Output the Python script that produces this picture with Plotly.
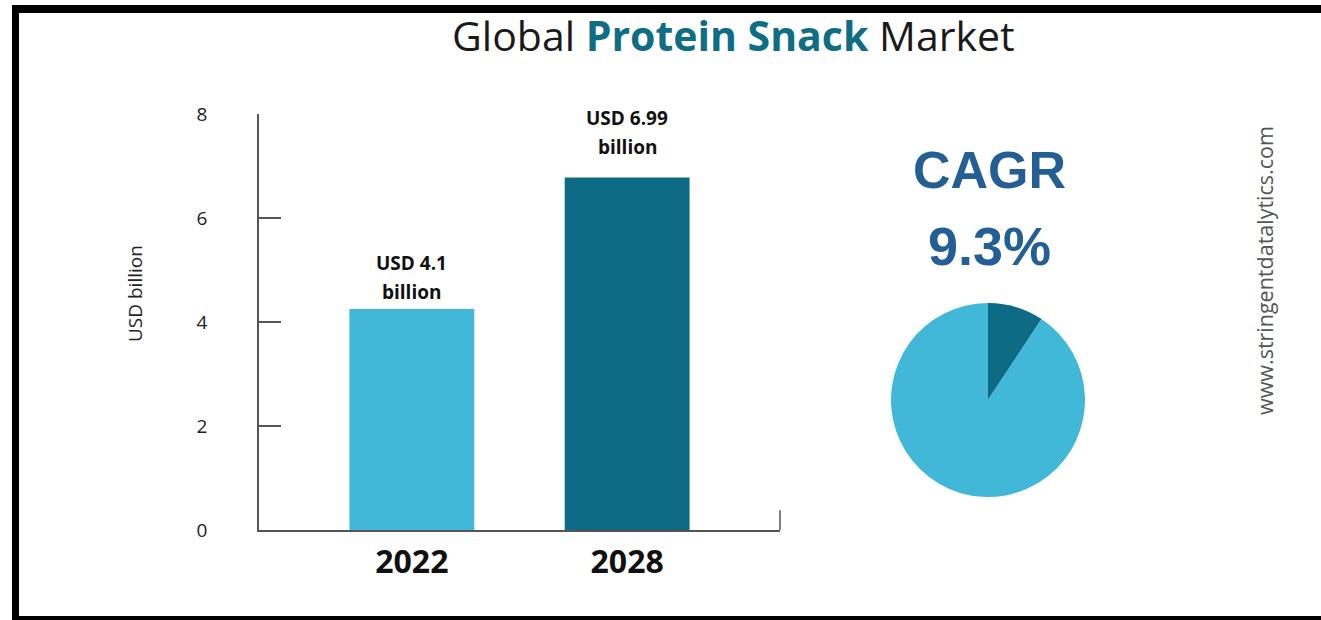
import plotly.graph_objects as go

# ---- data ----
years = ["2022", "2028"]
market_values = [4.25, 6.78]          # bar heights (USD billion)
label_top = ["USD 4.1", "USD 6.99"]
label_bottom = ["billion", "billion"]
cagr_share = [9.3, 90.7]              # pie: CAGR slice vs rest
y_ticks = [0, 2, 4, 6, 8]

# ---- style ----
W, H = 1321, 620
LIGHT = "#42b8d8"
DARK = "#0e6b85"
top_shift = [46, 59]
bottom_shift = [17, 30]

def px_x(p):
    return p / W

def px_y(p):
    return 1 - p / H

fig = go.Figure()

fig.add_trace(go.Bar(
    x=years, y=market_values,
    marker=dict(color=[LIGHT, DARK], line=dict(width=0)),
    width=0.58,
    hoverinfo="skip", showlegend=False,
))

fig.add_trace(go.Pie(
    values=cagr_share,
    marker=dict(colors=[DARK, LIGHT], line=dict(width=0)),
    sort=False, direction="clockwise", rotation=0,
    textinfo="none", hoverinfo="skip", showlegend=False,
    domain=dict(x=[px_x(891), px_x(1085)], y=[px_y(497), px_y(303)]),
))

annotations = [
    dict(text="Global <b><span style='color:#0f6e84'>Protein Snack</span></b> Market",
         xref="paper", yref="paper", x=px_x(733), y=px_y(35), showarrow=False,
         xanchor="center", yanchor="middle",
         font=dict(family="Open Sans", size=41, color="#1a1a1a")),
    dict(text="<b>CAGR</b>", xref="paper", yref="paper", x=px_x(989), y=px_y(170),
         showarrow=False, xanchor="center", yanchor="middle",
         font=dict(family="Liberation Sans", size=52, color="#235e94")),
    dict(text="<b>9.3%</b>", xref="paper", yref="paper", x=px_x(989), y=px_y(246),
         showarrow=False, xanchor="center", yanchor="middle",
         font=dict(family="Liberation Sans", size=54, color="#235e94")),
    dict(text="www.stringentdatalytics.com", xref="paper", yref="paper",
         x=px_x(1265), y=px_y(271), showarrow=False, textangle=-90,
         xanchor="center", yanchor="middle",
         font=dict(family="Open Sans", size=21.5, color="#555")),
    dict(text="USD billion", xref="paper", yref="paper",
         x=px_x(135), y=px_y(294), showarrow=False, textangle=-90,
         xanchor="center", yanchor="middle",
         font=dict(family="Open Sans", size=19, color="#222")),
]
for i, (v, t1, t2, s1, s2) in enumerate(zip(market_values, label_top, label_bottom, top_shift, bottom_shift)):
    annotations.append(dict(text=f"<b>{t1}</b>", x=i, y=v, xref="x", yref="y", showarrow=False,
                            xanchor="center", yanchor="middle", yshift=s1,
                            font=dict(family="Open Sans", size=19, color="#111")))
    annotations.append(dict(text=f"<b>{t2}</b>", x=i, y=v, xref="x", yref="y", showarrow=False,
                            xanchor="center", yanchor="middle", yshift=s2,
                            font=dict(family="Open Sans", size=19, color="#111")))

fig.update_layout(
    width=W, height=H,
    margin=dict(l=0, r=0, t=0, b=0, autoexpand=False),
    paper_bgcolor="white", plot_bgcolor="white",
    font=dict(family="Open Sans", color="#222"),
    xaxis=dict(
        type="category",
        domain=[px_x(259), px_x(780)],
        range=[-0.71, 1.71],
        showline=True, linecolor="#555", linewidth=1.5,
        showgrid=False, zeroline=False, ticks="",
        tickfont=dict(family="Open Sans", size=32, color="#111", weight="bold"),
        ticklabelstandoff=3, automargin=False,
        fixedrange=True,
    ),
    yaxis=dict(
        domain=[px_y(530), px_y(114)],
        range=[0, 8],
        tickvals=y_ticks,
        showline=True, linecolor="#555", linewidth=1.5,
        showgrid=False, zeroline=False,
        ticks="inside", ticklen=22, tickcolor="#555", tickwidth=1.5,
        tickfont=dict(family="Open Sans", size=19, color="#222"),
        ticklabelstandoff=46, automargin=False,
        fixedrange=True,
    ),
    shapes=[
        dict(type="line", xref="x domain", yref="y", x0=1, x1=1, y0=0, y1=0.38,
             line=dict(color="#555", width=1.5)),
        dict(type="rect", xref="paper", yref="paper", x0=px_x(12), x1=1.0, y0=px_y(13), y1=px_y(5),
             fillcolor="black", line=dict(width=0)),
        dict(type="rect", xref="paper", yref="paper", x0=px_x(12), x1=px_x(19), y0=0, y1=px_y(5),
             fillcolor="black", line=dict(width=0)),
        dict(type="rect", xref="paper", yref="paper", x0=px_x(12), x1=1.0, y0=0, y1=px_y(616),
             fillcolor="black", line=dict(width=0)),
    ],
    annotations=annotations,
)

fig.write_html("out.html", config={"displayModeBar": False},
               post_script="document.body.style.margin='0';document.body.style.overflow='hidden';")
